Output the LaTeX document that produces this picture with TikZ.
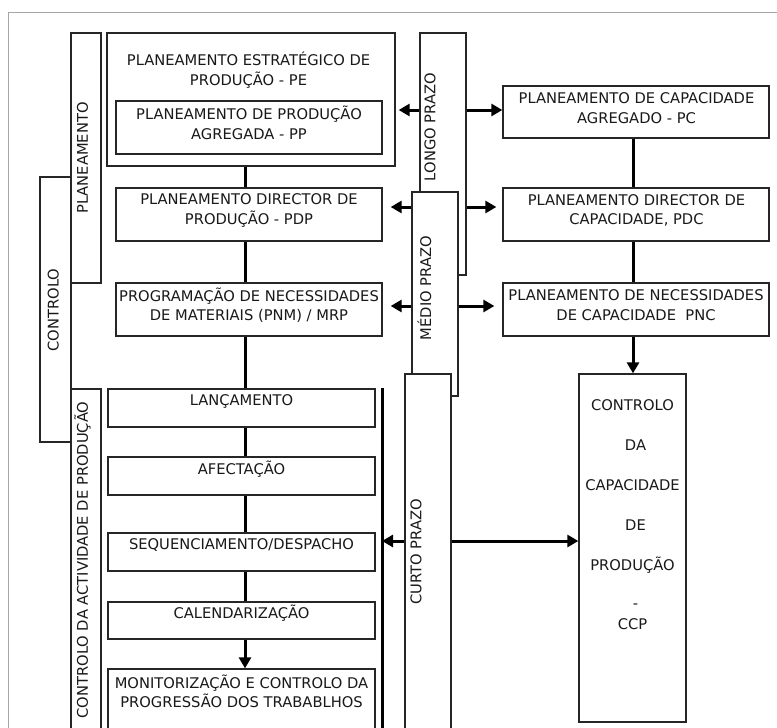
\documentclass[tikz,border=0pt]{standalone}
\usepackage{fontspec}
\setmainfont{DejaVu Sans}
\usetikzlibrary{arrows.meta}
\begin{document}
\begin{tikzpicture}[x=1pt,y=-1pt,
  frame/.style={draw=black!35, line width=1pt},
  box/.style={draw=black!85, line width=1.3pt, fill=white, inner sep=0pt, rectangle},
  txt/.style={align=center, inner sep=0pt, text=black!90, font=\fontsize{14.7}{19.5}\selectfont},
  vtxt/.style={txt, rotate=90},
  conn/.style={line width=3pt, draw=black},
  arr/.style={conn, -{Triangle[length=11pt,width=12pt]}},
]
\useasboundingbox (0,0) rectangle (777,728);
\draw[frame] (8,740) -- (8,12) -- (790,12);

% side bands: planning / control
\node[box, minimum width=31pt, minimum height=265pt] (ctrl) at (55.5,309.5) {};
\node[box, minimum width=30pt, minimum height=250pt] (plan) at (86,158) {};
\node[box, minimum width=30pt, minimum height=351pt] (cap) at (86,564.5) {};
\node[vtxt] (ctrl-t) at (53.3,310) {CONTROLO};
\node[vtxt] (plan-t) at (82.5,158) {PLANEAMENTO};
\node[vtxt] (cap-t) at (82.5,560) {CONTROLO DA ACTIVIDADE DE PRODUÇÃO};

% production planning column
\node[box, minimum width=288pt, minimum height=133pt] (pe) at (251,99.5) {};
\node[txt] (pe-t) at (248.5,70) {PLANEAMENTO ESTRATÉGICO DE\\PRODUÇÃO - PE};
\node[box, minimum width=266pt, minimum height=53pt] (pp) at (249,127.5) {};
\node[txt] (pp-t) at (249,123) {PLANEAMENTO DE PRODUÇÃO\\AGREGADA - PP};
\node[box, minimum width=266pt, minimum height=53pt] (pdp) at (249,214.5) {};
\node[txt] (pdp-t) at (249,210.5) {PLANEAMENTO DIRECTOR DE\\PRODUÇÃO - PDP};
\node[box, minimum width=266pt, minimum height=53pt] (pnm) at (249,309.5) {};
\node[txt] (pnm-t) at (249,305) {PROGRAMAÇÃO DE NECESSIDADES\\DE MATERIAIS (PNM) / MRP};

% shop-floor control steps
\node[box, minimum width=267pt, minimum height=38pt] (lanc) at (241.5,408) {};
\node[txt] (lanc-t) at (241.5,401) {LANÇAMENTO};
\node[box, minimum width=267pt, minimum height=38pt] (afec) at (241.5,476) {};
\node[txt] (afec-t) at (241.5,469) {AFECTAÇÃO};
\node[box, minimum width=267pt, minimum height=38pt] (seq) at (241.5,552) {};
\node[txt] (seq-t) at (241.5,545) {SEQUENCIAMENTO/DESPACHO};
\node[box, minimum width=267pt, minimum height=37pt] (cal) at (241.5,620.5) {};
\node[txt] (cal-t) at (241.5,613) {CALENDARIZAÇÃO};
\node[box, minimum width=267pt, minimum height=71pt] (mon) at (241.5,704.5) {};
\node[txt] (mon-t) at (241.5,691.5) {MONITORIZAÇÃO E CONTROLO DA\\PROGRESSÃO DOS TRABABLHOS};

% time horizons
\node[box, minimum width=46pt, minimum height=242pt] (longo) at (443,154) {};
\node[vtxt] (longo-t) at (430,127) {LONGO PRAZO};
\node[box, minimum width=46pt, minimum height=204pt] (medio) at (435,294) {};
\node[vtxt] (medio-t) at (424.5,288) {MÉDIO PRAZO};
\node[box, minimum width=46pt, minimum height=366pt] (curto) at (428,557) {};
\node[vtxt] (curto-t) at (416,552) {CURTO PRAZO};

% capacity planning column
\node[box, minimum width=266pt, minimum height=52pt] (pc) at (636,112) {};
\node[txt] (pc-t) at (636.5,108) {PLANEAMENTO DE CAPACIDADE\\AGREGADO - PC};
\node[box, minimum width=266pt, minimum height=53pt] (pdc) at (636,214.5) {};
\node[txt] (pdc-t) at (636.5,210.5) {PLANEAMENTO DIRECTOR DE\\CAPACIDADE, PDC};
\node[box, minimum width=266pt, minimum height=53pt] (pnc) at (636,309.5) {};
\node[txt] (pnc-t) at (636,305) {PLANEAMENTO DE NECESSIDADES\\DE CAPACIDADE~~PNC};
\node[box, minimum width=107pt, minimum height=348pt] (ccp) at (632.5,548) {};
\node[txt, anchor=north] (ccp-t) at (632.5,399.7) {CONTROLO\\[20.5pt]\hspace*{6pt}DA\\[20.5pt]CAPACIDADE\\[20.5pt]\hspace*{6pt}DE\\[20.5pt]PRODUÇÃO\\[18.5pt]\hspace*{6pt}-\\[1.5pt]CCP};

% reference lines and coordinates for connectors
\coordinate (lx) at (245,0);
\coordinate (rx) at (633,0);
\coordinate (bartop) at (382,388);
\coordinate (barbot) at (382,740);
\coordinate (y1) at (0,110);
\coordinate (y2) at (0,207);
\coordinate (y3) at (0,306);
\coordinate (y4) at (0,541);

% vertical flow, left column
\draw[conn] (pe.south -| lx) -- (pdp.north -| lx);
\draw[conn] (pdp.south -| lx) -- (pnm.north -| lx);
\draw[conn] (pnm.south -| lx) -- (lanc.north -| lx);
\draw[conn] (lanc.south -| lx) -- (afec.north -| lx);
\draw[conn] (afec.south -| lx) -- (seq.north -| lx);
\draw[conn] (seq.south -| lx) -- (cal.north -| lx);
\draw[arr] (cal.south -| lx) -- (mon.north -| lx);
\draw[conn] (bartop) -- (barbot);

% vertical flow, right column
\draw[conn] (pc.south -| rx) -- (pdc.north -| rx);
\draw[conn] (pdc.south -| rx) -- (pnc.north -| rx);
\draw[arr] (pnc.south -| rx) -- (ccp.north -| rx);

% horizon arrows
\draw[arr, shorten >=3pt] (longo.west |- y1) -- (pe.east |- y1);
\draw[arr] (longo.east |- y1) -- (pc.west |- y1);
\draw[arr, shorten >=8pt] (medio.west |- y2) -- (pdp.east |- y2);
\draw[arr, shorten >=6pt] (longo.east |- y2) -- (pdc.west |- y2);
\draw[arr, shorten >=8pt] (medio.west |- y3) -- (pnm.east |- y3);
\draw[arr, shorten >=8pt] (medio.east |- y3) -- (pnc.west |- y3);
\draw[arr] (curto.west |- y4) -- (bartop |- y4);
\draw[arr] (curto.east |- y4) -- (ccp.west |- y4);
\end{tikzpicture}
\end{document}
